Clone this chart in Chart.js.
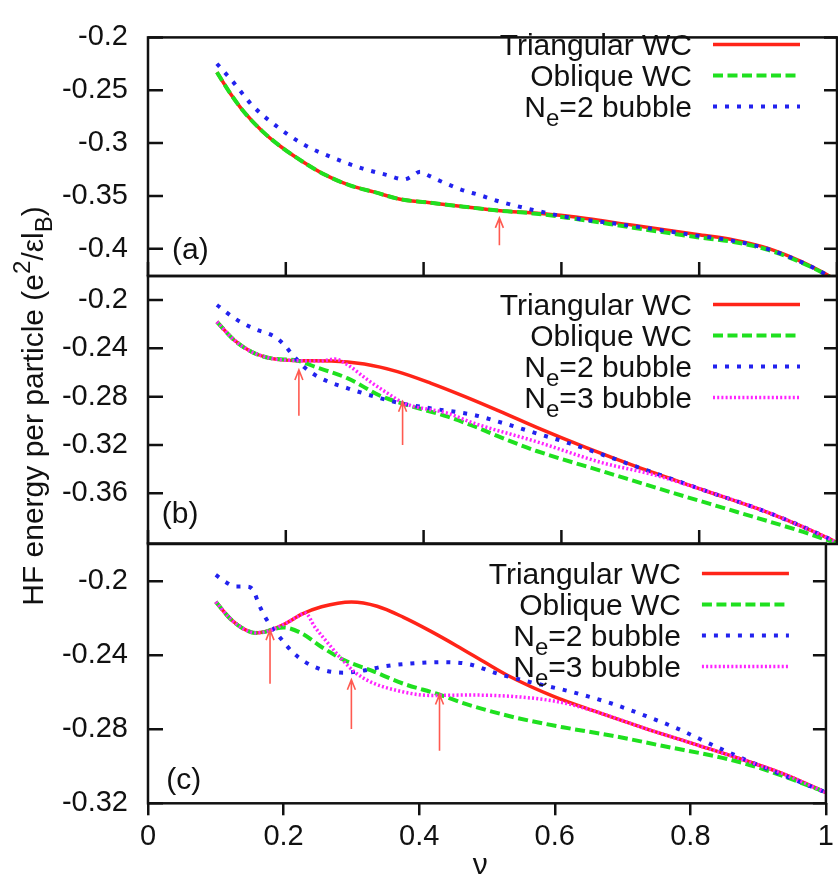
<!DOCTYPE html>
<html>
<head>
<meta charset="utf-8">
<script src="https://cdn.jsdelivr.net/npm/chart.js@4.4.1/dist/chart.umd.min.js"></script>
<style>
  html, body { margin: 0; padding: 0; background: #fff; }
  #wrap { position: relative; width: 838px; height: 877px; }
  #wrap canvas { position: absolute; left: 0; top: 0; }
</style>
</head>
<body>
<div id="wrap">
  <canvas id="panelA" width="838" height="877"></canvas>
  <canvas id="panelB" width="838" height="877"></canvas>
  <canvas id="panelC" width="838" height="877"></canvas>
</div>
<script>
// ---- labels and ticks ----
const seriesNames = ['Triangular WC', 'Oblique WC', 'N_e=2 bubble', 'N_e=3 bubble'];
const panelTags = ['(a)', '(b)', '(c)'];
const yTitle = 'HF energy per particle (e^2/\u03b5l_B)';
const xTitle = '\u03bd';
const xTicks = [0, 0.2, 0.4, 0.6, 0.8, 1];
const yTicksA = [-0.2, -0.25, -0.3, -0.35, -0.4];
const yTicksB = [-0.2, -0.24, -0.28, -0.32, -0.36];
const yTicksC = [-0.2, -0.24, -0.28, -0.32];

// ---- panel (a) ----
const nuA_tri = [0.10, 0.12, 0.14, 0.167, 0.194, 0.223, 0.257, 0.293, 0.329, 0.366, 0.404, 0.45, 0.511, 0.559, 0.608, 0.704, 0.797, 0.85, 0.90, 0.95, 0.98, 1.0];
const eA_tri  = [-0.233, -0.2535, -0.2710, -0.2894, -0.3039, -0.3169, -0.330, -0.340, -0.3464, -0.3531, -0.356, -0.3595, -0.364, -0.3661, -0.369, -0.3777, -0.3864, -0.3915, -0.3995, -0.4125, -0.4225, -0.4300];
const nuA_obl = [0.10, 0.12, 0.14, 0.167, 0.194, 0.223, 0.257, 0.293, 0.329, 0.366, 0.404, 0.45, 0.511, 0.559, 0.608, 0.704, 0.797, 0.85, 0.90, 0.95, 0.98, 1.0];
const eA_obl  = [-0.233, -0.2535, -0.2710, -0.2894, -0.3039, -0.3169, -0.330, -0.340, -0.3464, -0.3531, -0.356, -0.3595, -0.364, -0.3665, -0.3705, -0.3800, -0.3890, -0.3935, -0.4010, -0.4135, -0.4230, -0.4305];
const nuA_b2  = [0.10, 0.123, 0.152, 0.186, 0.225, 0.269, 0.312, 0.346, 0.372, 0.384, 0.395, 0.405, 0.424, 0.453, 0.482, 0.511, 0.559, 0.608, 0.704, 0.797, 0.85, 0.90, 0.95, 0.98, 1.0];
const eA_b2   = [-0.2249, -0.2417, -0.2648, -0.2837, -0.301, -0.314, -0.3241, -0.330, -0.3343, -0.331, -0.327, -0.330, -0.3358, -0.3436, -0.3493, -0.3554, -0.3632, -0.3699, -0.3785, -0.3875, -0.3925, -0.4003, -0.4130, -0.4228, -0.4302];

// ---- panel (b) ----
const nuB_tri = [0.10, 0.125, 0.15, 0.179, 0.217, 0.266, 0.314, 0.362, 0.411, 0.46, 0.516, 0.564, 0.637, 0.709, 0.806, 0.903, 0.99, 1.0];
const eB_tri  = [-0.218, -0.2331, -0.2428, -0.2483, -0.2502, -0.2505, -0.253, -0.2593, -0.2690, -0.2800, -0.2935, -0.3055, -0.3225, -0.338, -0.3573, -0.3766, -0.398, -0.401];
const nuB_obl = [0.10, 0.125, 0.15, 0.179, 0.217, 0.242, 0.29, 0.338, 0.377, 0.435, 0.473, 0.52, 0.564, 0.661, 0.758, 0.855, 0.951, 1.0];
const eB_obl  = [-0.218, -0.2331, -0.2428, -0.2483, -0.2502, -0.2552, -0.2649, -0.2795, -0.287, -0.2966, -0.3045, -0.3155, -0.3250, -0.3420, -0.3590, -0.3755, -0.3920, -0.4015];
const nuB_b2  = [0.10, 0.128, 0.155, 0.184, 0.198, 0.208, 0.227, 0.251, 0.29, 0.338, 0.367, 0.411, 0.473, 0.516, 0.564, 0.612, 0.661, 0.709, 0.806, 0.903, 0.99, 1.0];
const eB_b2   = [-0.2041, -0.216, -0.224, -0.2304, -0.2373, -0.2441, -0.2557, -0.2648, -0.2731, -0.2814, -0.2855, -0.2897, -0.2952, -0.302, -0.3104, -0.3187, -0.3283, -0.338, -0.3573, -0.3766, -0.398, -0.401];
const nuB_b3  = [0.10, 0.125, 0.15, 0.179, 0.217, 0.25, 0.271, 0.29, 0.319, 0.348, 0.372, 0.435, 0.473, 0.564, 0.661, 0.733, 0.806, 0.903, 0.99, 1.0];
const eB_b3   = [-0.218, -0.2331, -0.2428, -0.2483, -0.2502, -0.2505, -0.2489, -0.2538, -0.2662, -0.2773, -0.2855, -0.2938, -0.302, -0.3173, -0.335, -0.3445, -0.3573, -0.3766, -0.398, -0.401];

// ---- panel (c) ----
const nuC_tri = [0.10, 0.121, 0.14, 0.159, 0.174, 0.184, 0.203, 0.227, 0.256, 0.30, 0.338, 0.377, 0.416, 0.455, 0.50, 0.53, 0.60, 0.661, 0.733, 0.806, 0.879, 0.94, 1.0];
const eC_tri  = [-0.2111, -0.2201, -0.2255, -0.2279, -0.2272, -0.2260, -0.2228, -0.2178, -0.2138, -0.2112, -0.2135, -0.2195, -0.2268, -0.2348, -0.2445, -0.2508, -0.2625, -0.2705, -0.2795, -0.2880, -0.2966, -0.3045, -0.3142];
const nuC_obl = [0.10, 0.121, 0.14, 0.159, 0.174, 0.184, 0.20, 0.227, 0.256, 0.29, 0.329, 0.377, 0.426, 0.473, 0.54, 0.612, 0.685, 0.758, 0.855, 0.903, 0.988, 1.0];
const eC_obl  = [-0.2111, -0.2201, -0.2255, -0.2279, -0.2272, -0.2260, -0.2250, -0.2282, -0.2355, -0.2427, -0.2482, -0.2554, -0.2608, -0.2668, -0.2735, -0.2789, -0.2835, -0.2889, -0.2961, -0.3010, -0.3124, -0.3142];
const nuC_b2  = [0.10, 0.116, 0.13, 0.145, 0.155, 0.164, 0.174, 0.184, 0.198, 0.213, 0.232, 0.261, 0.29, 0.319, 0.348, 0.387, 0.435, 0.473, 0.516, 0.564, 0.627, 0.685, 0.733, 0.782, 0.835, 0.879, 0.988, 1.0];
const eC_b2   = [-0.1966, -0.2008, -0.2029, -0.2029, -0.2047, -0.2129, -0.2201, -0.2255, -0.2319, -0.2382, -0.2437, -0.2482, -0.2494, -0.2482, -0.246, -0.2445, -0.2437, -0.2448, -0.25, -0.2545, -0.26, -0.2662, -0.2726, -0.2798, -0.2889, -0.2961, -0.3124, -0.3142];
const nuC_b3  = [0.10, 0.121, 0.14, 0.159, 0.174, 0.184, 0.203, 0.22, 0.232, 0.246, 0.266, 0.285, 0.305, 0.329, 0.367, 0.416, 0.473, 0.54, 0.60, 0.63, 0.661, 0.733, 0.806, 0.879, 0.94, 1.0];
const eC_b3   = [-0.2111, -0.2201, -0.2255, -0.2279, -0.2272, -0.2260, -0.2228, -0.2192, -0.2172, -0.2247, -0.2337, -0.2418, -0.2491, -0.2545, -0.259, -0.2617, -0.2615, -0.2623, -0.2648, -0.2672, -0.2705, -0.2795, -0.2880, -0.2966, -0.3045, -0.3142];

// ---- transition arrows: [nu, tail energy, head energy] ----
const arrowsA = [[0.51, -0.3965, -0.3707]];
const arrowsB = [[0.219, -0.2958, -0.2579], [0.3695, -0.3200, -0.2842]];
const arrowsC = [[0.18, -0.2554, -0.2264], [0.30, -0.2798, -0.2532], [0.43, -0.2916, -0.2612]];

// ---- styling ----
const ink = '#111111';
const FONT = '"Liberation Sans", Arial, Helvetica, sans-serif';
const arrowColor = '#ff5a50';
const lineStyles = [
  { color: '#ff2418', width: 3.5, dash: [] },
  { color: '#1fe01f', width: 4,   dash: [10, 4.5] },
  { color: '#2222ee', width: 4,   dash: [4, 8] },
  { color: '#ff22ff', width: 3.5, dash: [2, 2.2] }
];

function series(k, nu, e) {
  const s = lineStyles[k];
  return {
    label: seriesNames[k],
    data: nu.map((x, i) => ({ x: x, y: e[i] })),
    borderColor: s.color,
    borderWidth: s.width,
    borderDash: s.dash,
    borderCapStyle: 'butt',
    pointRadius: 0,
    fill: false,
    cubicInterpolationMode: 'monotone',
    clip: 0,
    order: 3 - k
  };
}

// text with single-character sub/superscripts marked by _ and ^
function richRuns(str) {
  const runs = [];
  let buf = '';
  for (let i = 0; i < str.length; i++) {
    const c = str[i];
    if ((c === '_' || c === '^') && i + 1 < str.length) {
      if (buf) runs.push({ t: buf, m: 0 });
      buf = '';
      runs.push({ t: str[i + 1], m: c === '_' ? 1 : -1 });
      i++;
    } else {
      buf += c;
    }
  }
  if (buf) runs.push({ t: buf, m: 0 });
  return runs;
}
function drawRich(ctx, str, x, y, align, size) {
  const runs = richRuns(str);
  const fontOf = m => (m ? Math.round(size * 0.8) : size) + 'px ' + FONT;
  let w = 0;
  runs.forEach(r => { ctx.font = fontOf(r.m); r.w = ctx.measureText(r.t).width; w += r.w; });
  let cx = align === 'right' ? x - w : (align === 'center' ? x - w / 2 : x);
  ctx.textAlign = 'left';
  ctx.textBaseline = 'alphabetic';
  runs.forEach(r => {
    ctx.font = fontOf(r.m);
    const dy = r.m === 1 ? size * 0.3 : (r.m === -1 ? -size * 0.42 : 0);
    ctx.fillText(r.t, cx, y + dy);
    cx += r.w;
  });
}

const fmt = v => String(Math.round(v * 100) / 100);

// frame, inward ticks, arrows, in-panel legend and labels
const panelPlugin = {
  id: 'panel',
  afterDatasetsDraw(chart, args, o) {
    const ctx = chart.ctx, a = chart.chartArea;
    const xs = chart.scales.x, ys = chart.scales.y;
    ctx.save();

    // arrows
    ctx.strokeStyle = arrowColor;
    ctx.lineWidth = 1.6;
    ctx.setLineDash([]);
    o.arrows.forEach(([nu, from, to]) => {
      const x = xs.getPixelForValue(nu);
      const y0 = ys.getPixelForValue(from), y1 = ys.getPixelForValue(to);
      ctx.beginPath();
      ctx.moveTo(x, y0); ctx.lineTo(x, y1);
      ctx.moveTo(x - 4, y1 + 10); ctx.lineTo(x, y1); ctx.lineTo(x + 4, y1 + 10);
      ctx.stroke();
    });

    // border and inward ticks
    ctx.strokeStyle = ink;
    ctx.lineWidth = 2.5;
    ctx.strokeRect(a.left, a.top, a.right - a.left, a.bottom - a.top);
    ctx.beginPath();
    o.yTicks.forEach(v => {
      const y = ys.getPixelForValue(v);
      ctx.moveTo(a.left, y); ctx.lineTo(a.left + 15, y);
      ctx.moveTo(a.right, y); ctx.lineTo(a.right - 13, y);
    });
    if (o.innerX) {
      xTicks.forEach(v => {
        const x = xs.getPixelForValue(v);
        ctx.moveTo(x, a.bottom); ctx.lineTo(x, a.bottom - 14);
      });
    }
    ctx.stroke();

    // legend: right-aligned names with line samples on the right
    chart.data.datasets.forEach((d, i) => {
      const y = o.legendTop + i * 31;
      ctx.fillStyle = ink;
      drawRich(ctx, d.label, a.right - 145, y + 10.7, 'right', 30);
      ctx.strokeStyle = d.borderColor;
      ctx.lineWidth = d.borderWidth;
      ctx.lineCap = 'butt';
      ctx.setLineDash(d.borderDash);
      ctx.beginPath();
      ctx.moveTo(a.right - 124, y); ctx.lineTo(a.right - 37, y);
      ctx.stroke();
      ctx.setLineDash([]);
    });

    // panel tag
    ctx.fillStyle = ink;
    ctx.font = '30px ' + FONT;
    ctx.textAlign = 'left';
    ctx.textBaseline = 'middle';
    ctx.fillText(o.tag, xs.getPixelForValue(o.tagAt[0]), ys.getPixelForValue(o.tagAt[1]));

    // shared axis titles
    if (o.yTitle) {
      ctx.save();
      ctx.translate(43, 406);
      ctx.rotate(-Math.PI / 2);
      drawRich(ctx, o.yTitle, 0, 0, 'center', 30);
      ctx.restore();
    }
    if (o.xTitle) {
      ctx.font = '30px ' + FONT;
      ctx.textAlign = 'center';
      ctx.textBaseline = 'alphabetic';
      ctx.fillText(o.xTitle, xs.getPixelForValue(0.49), 874);
    }
    ctx.restore();
  }
};

function makePanel(id, datasets, yMin, yMax, yTicks, p) {
  return new Chart(document.getElementById(id), {
    type: 'line',
    data: { datasets: datasets },
    options: {
      responsive: false,
      animation: false,
      events: [],
      layout: { padding: { left: 0, right: 1, top: p.top, bottom: p.bottom } },
      scales: {
        x: {
          type: 'linear', min: 0, max: 1,
          display: p.showX,
          afterBuildTicks: s => { s.ticks = xTicks.map(v => ({ value: v })); },
          afterFit: s => { s.height = p.xHeight || 0; },
          grid: { display: true, drawOnChartArea: false, drawTicks: true, tickLength: 12, color: ink, lineWidth: 2.5 },
          border: { display: false },
          ticks: { font: { family: FONT, size: 29 }, color: ink, padding: 4, maxRotation: 0, autoSkip: false, callback: v => fmt(v) }
        },
        y: {
          type: 'linear', min: yMin, max: yMax,
          afterBuildTicks: s => { s.ticks = yTicks.map(v => ({ value: v })); },
          afterFit: s => { s.width = 148; },
          grid: { display: false, drawTicks: false },
          border: { display: false },
          ticks: { font: { family: FONT, size: 29 }, color: ink, padding: 20, autoSkip: false, callback: v => fmt(v) }
        }
      },
      plugins: {
        legend: { display: false },
        tooltip: { enabled: false },
        panel: {
          arrows: p.arrows, yTicks: yTicks, innerX: p.innerX,
          legendTop: p.legendTop, tag: p.tag, tagAt: p.tagAt,
          yTitle: p.yTitle || null, xTitle: p.xTitle || null
        }
      }
    },
    plugins: [panelPlugin]
  });
}

makePanel('panelA', [
  series(0, nuA_tri, eA_tri),
  series(1, nuA_obl, eA_obl),
  series(2, nuA_b2, eA_b2)
], -0.4257, -0.2, yTicksA, {
  top: 16, bottom: 601, showX: false, innerX: true,
  arrows: arrowsA, legendTop: 44.5, tag: panelTags[0], tagAt: [0.035, -0.402]
});

makePanel('panelB', [
  series(0, nuB_tri, eB_tri),
  series(1, nuB_obl, eB_obl),
  series(2, nuB_b2, eB_b2),
  series(3, nuB_b3, eB_b3)
], -0.402, -0.1801, yTicksB, {
  top: 276, bottom: 333, showX: false, innerX: true,
  arrows: arrowsB, legendTop: 304.5, tag: panelTags[1], tagAt: [0.02, -0.378],
  yTitle: yTitle
});

makePanel('panelC', [
  series(0, nuC_tri, eC_tri),
  series(1, nuC_obl, eC_obl),
  series(2, nuC_b2, eC_b2),
  series(3, nuC_b3, eC_b3)
], -0.32, -0.1796, yTicksC, {
  top: 543.5, bottom: 0, showX: true, xHeight: 73.7, innerX: false,
  arrows: arrowsC, legendTop: 573.5, tag: panelTags[2], tagAt: [0.027, -0.3079],
  xTitle: xTitle
});
</script>
</body>
</html>
